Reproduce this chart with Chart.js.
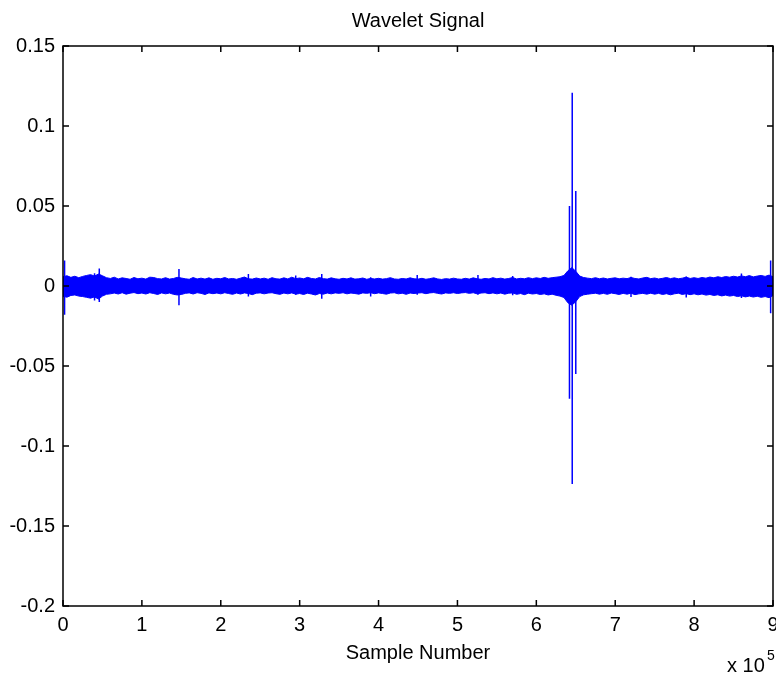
<!DOCTYPE html>
<html>
<head>
<meta charset="utf-8">
<script src="https://cdn.jsdelivr.net/npm/chart.js@4/dist/chart.umd.min.js"></script>
<style>
html, body { margin: 0; padding: 0; background: #fff; }
canvas { display: block; }
</style>
</head>
<body>
<canvas id="waveletChart" width="776" height="675"></canvas>
<script>
// x axis is in units of 1e5 samples
const xTickLabels = ["0", "1", "2", "3", "4", "5", "6", "7", "8", "9"];
const yTickLabels = ["-0.2", "-0.15", "-0.1", "-0.05", "0", "0.05", "0.1", "0.15"];

// envelope of the noise band, one value every 0.05 (x 1e5 samples)
const sampleStep = 0.05;
const envHigh = [
    0.0058, 0.0064, 0.0054, 0.0061, 0.0052, 0.0060, 0.0066, 0.0071, 0.0062, 0.0075,
    0.0064, 0.0052, 0.0047, 0.0055, 0.0044, 0.0051, 0.0047, 0.0042, 0.0053, 0.0045,
    0.0049, 0.0043, 0.0055, 0.0053, 0.0046, 0.0044, 0.0052, 0.0043, 0.0047, 0.0054,
    0.0050, 0.0045, 0.0042, 0.0053, 0.0044, 0.0049, 0.0043, 0.0051, 0.0042, 0.0048,
    0.0045, 0.0053, 0.0044, 0.0047, 0.0042, 0.0049, 0.0056, 0.0045, 0.0043, 0.0050,
    0.0044, 0.0049, 0.0042, 0.0052, 0.0045, 0.0043, 0.0051, 0.0044, 0.0055, 0.0046,
    0.0050, 0.0045, 0.0054, 0.0047, 0.0044, 0.0053, 0.0046, 0.0043, 0.0051, 0.0045,
    0.0042, 0.0048, 0.0044, 0.0051, 0.0043, 0.0045, 0.0050, 0.0042, 0.0047, 0.0044,
    0.0048, 0.0043, 0.0046, 0.0052, 0.0044, 0.0042, 0.0047, 0.0044, 0.0051, 0.0045,
    0.0043, 0.0048, 0.0042, 0.0046, 0.0051, 0.0044, 0.0041, 0.0046, 0.0043, 0.0049,
    0.0044, 0.0042, 0.0048, 0.0043, 0.0051, 0.0045, 0.0042, 0.0047, 0.0044, 0.0052,
    0.0045, 0.0049, 0.0043, 0.0047, 0.0053, 0.0044, 0.0048, 0.0045, 0.0052, 0.0046,
    0.0051, 0.0047, 0.0054, 0.0048, 0.0052, 0.0055, 0.0058, 0.0066, 0.0095, 0.0115,
    0.0092, 0.0062, 0.0053, 0.0049, 0.0046, 0.0052, 0.0045, 0.0050, 0.0044, 0.0048,
    0.0051, 0.0045, 0.0049, 0.0046, 0.0053, 0.0047, 0.0044, 0.0050, 0.0054, 0.0046,
    0.0050, 0.0044, 0.0048, 0.0053, 0.0046, 0.0051, 0.0045, 0.0049, 0.0055, 0.0047,
    0.0052, 0.0047, 0.0053, 0.0049, 0.0056, 0.0051, 0.0058, 0.0053, 0.0059, 0.0055,
    0.0061, 0.0056, 0.0063, 0.0058, 0.0065, 0.0057, 0.0062, 0.0066, 0.0060, 0.0068,
    0.0058
];
const envLow = [
    -0.0064, -0.0070, -0.0059, -0.0056, -0.0063, -0.0066, -0.0071, -0.0076, -0.0068, -0.0082,
    -0.0063, -0.0052, -0.0049, -0.0044, -0.0050, -0.0042, -0.0051, -0.0045, -0.0041, -0.0048,
    -0.0044, -0.0050, -0.0042, -0.0047, -0.0053, -0.0043, -0.0049, -0.0044, -0.0052, -0.0056,
    -0.0053, -0.0046, -0.0043, -0.0050, -0.0042, -0.0046, -0.0053, -0.0043, -0.0048, -0.0044,
    -0.0049, -0.0042, -0.0047, -0.0052, -0.0044, -0.0050, -0.0043, -0.0047, -0.0054, -0.0045,
    -0.0043, -0.0049, -0.0044, -0.0042, -0.0048, -0.0052, -0.0044, -0.0049, -0.0043, -0.0051,
    -0.0047, -0.0053, -0.0045, -0.0050, -0.0056, -0.0047, -0.0051, -0.0044, -0.0049, -0.0043,
    -0.0046, -0.0042, -0.0049, -0.0044, -0.0047, -0.0051, -0.0043, -0.0046, -0.0042, -0.0048,
    -0.0043, -0.0047, -0.0051, -0.0044, -0.0042, -0.0049, -0.0045, -0.0052, -0.0044, -0.0047,
    -0.0044, -0.0042, -0.0048, -0.0043, -0.0041, -0.0046, -0.0050, -0.0043, -0.0046, -0.0042,
    -0.0047, -0.0043, -0.0041, -0.0046, -0.0042, -0.0049, -0.0044, -0.0042, -0.0048, -0.0043,
    -0.0049, -0.0044, -0.0051, -0.0045, -0.0043, -0.0052, -0.0047, -0.0054, -0.0045, -0.0050,
    -0.0047, -0.0053, -0.0049, -0.0056, -0.0051, -0.0058, -0.0063, -0.0072, -0.0105, -0.0120,
    -0.0098, -0.0066, -0.0055, -0.0051, -0.0048, -0.0045, -0.0051, -0.0046, -0.0052, -0.0044,
    -0.0048, -0.0053, -0.0046, -0.0051, -0.0045, -0.0054, -0.0049, -0.0046, -0.0051, -0.0045,
    -0.0051, -0.0046, -0.0053, -0.0048, -0.0055, -0.0049, -0.0045, -0.0053, -0.0048, -0.0054,
    -0.0049, -0.0055, -0.0050, -0.0057, -0.0053, -0.0059, -0.0055, -0.0062, -0.0057, -0.0063,
    -0.0059, -0.0066, -0.0061, -0.0068, -0.0063, -0.0069, -0.0064, -0.0071, -0.0066, -0.0073,
    -0.0060
];

// isolated spikes: position (x 1e5 samples), peak, trough
const spikeX    = [0.02,   0.40,    0.46,   1.47,    2.35,    2.95,    3.28,    3.90,    4.49,    5.26,    5.70,    6.42,    6.455,   6.50,   7.20,    7.90,    8.60,    8.97];
const spikeHigh = [0.016,  0.008,   0.011,  0.0106,  0.0075,  0.0065,  0.0075,  0.0055,  0.0068,  0.0068,  0.0062,  0.050,   0.1208,  0.0594, 0.0058,  0.0060,  0.0078,  0.016];
const spikeLow  = [-0.018, -0.009, -0.010, -0.012,  -0.0065, -0.0055, -0.008,  -0.0065, -0.0055, -0.0055, -0.0058, -0.0705, -0.1238, -0.055, -0.0068, -0.0072, -0.0075, -0.017];

const FONT = '"Liberation Sans", Arial, sans-serif';
const BLUE = "#0000ff";

const upperData = envHigh.map((v, i) => ({ x: i * sampleStep, y: v }));
const lowerData = envLow.map((v, i) => ({ x: i * sampleStep, y: v }));
const spikeData = spikeX.flatMap((x, i) => [
    { x: x, y: spikeHigh[i] },
    { x: x, y: spikeLow[i] },
    { x: x, y: null }
]);

// MATLAB style box with inward ticks on all four sides, plus the x10^5 exponent
const matlabBox = {
    id: "matlabBox",
    afterDatasetsDraw(chart) {
        const { ctx, chartArea: a, scales: { x, y } } = chart;
        ctx.save();
        ctx.strokeStyle = "#000";
        ctx.lineWidth = 1.5;
        ctx.strokeRect(a.left, a.top, a.right - a.left, a.bottom - a.top);
        ctx.beginPath();
        x.ticks.forEach(t => {
            const px = x.getPixelForValue(t.value);
            ctx.moveTo(px, a.bottom); ctx.lineTo(px, a.bottom - 6);
            ctx.moveTo(px, a.top); ctx.lineTo(px, a.top + 6);
        });
        y.ticks.forEach(t => {
            const py = y.getPixelForValue(t.value);
            ctx.moveTo(a.left, py); ctx.lineTo(a.left + 6, py);
            ctx.moveTo(a.right, py); ctx.lineTo(a.right - 6, py);
        });
        ctx.stroke();

        ctx.fillStyle = "#000";
        ctx.textBaseline = "alphabetic";
        ctx.font = "20px " + FONT;
        ctx.fillText("x 10", a.right - 46, 672);
        ctx.font = "14px " + FONT;
        ctx.fillText("5", a.right - 6, 660);
        ctx.restore();
    }
};

new Chart(document.getElementById("waveletChart").getContext("2d"), {
    type: "line",
    data: {
        datasets: [{
            data: upperData,
            borderColor: BLUE,
            backgroundColor: BLUE,
            borderWidth: 1,
            fill: "+1",
            pointRadius: 0,
            tension: 0
        }, {
            data: lowerData,
            borderColor: BLUE,
            borderWidth: 1,
            fill: false,
            pointRadius: 0,
            tension: 0
        }, {
            data: spikeData,
            borderColor: BLUE,
            borderWidth: 1.5,
            fill: false,
            pointRadius: 0,
            spanGaps: false,
            tension: 0
        }]
    },
    options: {
        responsive: false,
        animation: false,
        layout: { padding: { top: 0, right: 3, bottom: 0, left: 0 } },
        plugins: {
            legend: { display: false },
            tooltip: { enabled: false },
            title: {
                display: true,
                fullSize: false,
                text: "Wavelet Signal",
                color: "#000",
                font: { family: FONT, size: 20, weight: "normal" },
                padding: { top: 9, bottom: 13 }
            }
        },
        scales: {
            x: {
                type: "linear",
                min: 0,
                max: 9,
                grid: { display: false, drawTicks: false },
                border: { display: false },
                ticks: {
                    stepSize: 1,
                    padding: 7,
                    color: "#000",
                    font: { family: FONT, size: 20 },
                    maxRotation: 0,
                    callback: (v, i) => xTickLabels[i]
                },
                title: {
                    display: true,
                    text: "Sample Number",
                    color: "#000",
                    font: { family: FONT, size: 20 },
                    padding: { top: 0, bottom: 10 }
                },
                afterFit(scale) {
                    scale.height = 69;
                    scale.paddingLeft = 0;
                    scale.paddingRight = 0;
                }
            },
            y: {
                min: -0.2,
                max: 0.15,
                grid: { display: false, drawTicks: false },
                border: { display: false },
                ticks: {
                    stepSize: 0.05,
                    padding: 8,
                    color: "#000",
                    font: { family: FONT, size: 20 },
                    callback: (v, i) => yTickLabels[i]
                },
                afterFit(scale) {
                    scale.width = 63;
                    scale.paddingTop = 0;
                    scale.paddingBottom = 0;
                }
            }
        }
    },
    plugins: [matlabBox]
});
</script>
</body>
</html>
